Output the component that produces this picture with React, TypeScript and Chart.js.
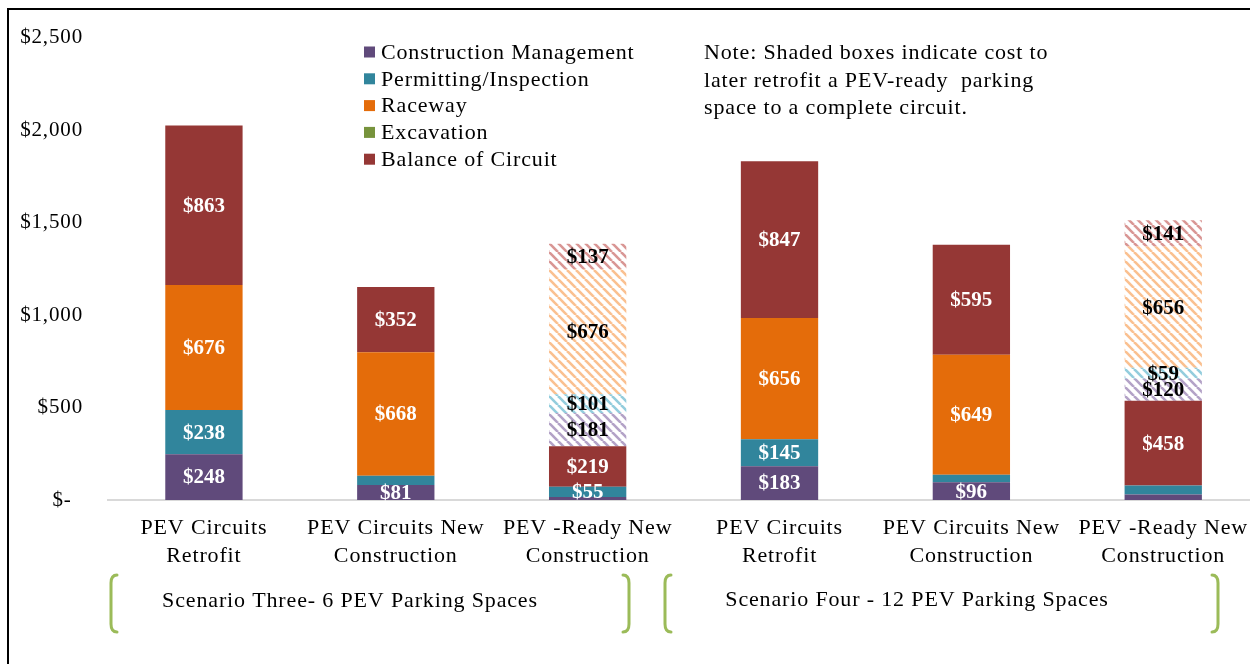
import React, { useEffect, useRef } from 'react';
import { Chart, registerables } from 'chart.js';
Chart.register(...registerables);

const categories: string[][] = [
  ['PEV Circuits', 'Retrofit'],
  ['PEV Circuits New', 'Construction'],
  ['PEV -Ready New', 'Construction'],
  ['PEV Circuits', 'Retrofit'],
  ['PEV Circuits New', 'Construction'],
  ['PEV -Ready New', 'Construction'],
];
const seriesNames = ['Construction Management', 'Permitting/Inspection', 'Raceway', 'Excavation', 'Balance of Circuit'];
const solidColors = ['#604a7b', '#31859c', '#e46c0a', '#77933c', '#953735'];
const hatchColors = ['#b3a2c7', '#93cddd', '#fac090', '#d99694'];

const constructionMgmt = [248, 81, 16, 183, 96, 30];
const permitting = [238, 50, 55, 145, 40, 48];
const raceway = [676, 668, 0, 656, 649, 0];
const excavation = [0, 0, 0, 0, 0, 0];
const balance = [863, 352, 219, 847, 595, 458];

const retrofitCM = [0, 0, 181, 0, 0, 120];
const retrofitPermitting = [0, 0, 101, 0, 0, 59];
const retrofitRaceway = [0, 0, 676, 0, 0, 656];
const retrofitBalance = [0, 0, 137, 0, 0, 141];

const yTicks = [0, 500, 1000, 1500, 2000, 2500];
const scenarioLabels = ['Scenario Three- 6 PEV Parking Spaces', 'Scenario Four - 12 PEV Parking Spaces'];
const noteLines = ['Note: Shaded boxes indicate cost to', 'later retrofit a PEV-ready  parking', 'space to a complete circuit.'];

const LABEL_MIN = 53;
const SERIF = '"Liberation Serif", "Times New Roman", serif';
const SPACING = '0.85px';
const FS = 22;

function makeHatch(color: string): CanvasPattern | string {
  const s = 9;
  const c = document.createElement('canvas');
  c.width = s;
  c.height = s;
  const g = c.getContext('2d');
  if (!g) return color;
  g.fillStyle = '#ffffff';
  g.fillRect(0, 0, s, s);
  g.strokeStyle = color;
  g.lineWidth = 2.6;
  for (const k of [-s, 0, s]) {
    g.beginPath();
    g.moveTo(k, 0);
    g.lineTo(k + s, s);
    g.stroke();
  }
  const p = g.createPattern(c, 'repeat');
  return p || color;
}

function fmt(v: number) {
  return '$' + v.toLocaleString('en-US');
}

export default function App() {
  const ref = useRef<HTMLCanvasElement>(null);
  useEffect(() => {
    const canvas = ref.current;
    if (!canvas) return;
    const solidData = [constructionMgmt, permitting, raceway, excavation, balance];
    const hatchData = [retrofitCM, retrofitPermitting, retrofitRaceway, retrofitBalance];

    const datasets: any[] = [];
    solidData.forEach((d, i) => {
      datasets.push({
        label: seriesNames[i],
        data: d,
        backgroundColor: solidColors[i],
        borderWidth: 0,
        stack: 's',
        _hatched: false,
      });
    });
    hatchData.forEach((d, i) => {
      datasets.push({
        label: 'retrofit-' + i,
        data: d,
        backgroundColor: makeHatch(hatchColors[i]),
        borderWidth: 0,
        stack: 's',
        _hatched: true,
      });
    });

    const spacingPlugin = {
      id: 'spacing',
      beforeInit(chart: any) {
        chart.ctx.letterSpacing = SPACING;
      },
      beforeUpdate(chart: any) {
        chart.ctx.letterSpacing = SPACING;
      },
      beforeDraw(chart: any) {
        chart.ctx.letterSpacing = SPACING;
      },
    };

    const decorPlugin = {
      id: 'decor',
      afterDraw(chart: any) {
        const ctx = chart.ctx as CanvasRenderingContext2D;
        ctx.save();
        (ctx as any).letterSpacing = SPACING;
        // frame
        ctx.fillStyle = '#000';
        ctx.fillRect(7, 8, chart.width, 2);
        ctx.fillRect(7, 8, 2, chart.height);

        // legend
        ctx.font = FS + 'px ' + SERIF;
        ctx.textBaseline = 'middle';
        ctx.textAlign = 'left';
        const legY0 = 52;
        const legStep = 26.8;
        seriesNames.forEach((name, i) => {
          const y = legY0 + i * legStep;
          ctx.fillStyle = solidColors[i];
          ctx.fillRect(364, y - 5.5, 11, 11);
          ctx.fillStyle = '#000';
          ctx.fillText(name, 381, y + 1);
        });

        // note
        noteLines.forEach((line, i) => {
          ctx.fillStyle = '#000';
          ctx.fillText(line, 704, 53 + i * 27.8);
        });

        // brackets
        ctx.strokeStyle = '#9bbb59';
        ctx.lineWidth = 3;
        ctx.lineCap = 'round';
        const top = 575;
        const bot = 632;
        const drawBracket = (x: number, dir: number) => {
          ctx.beginPath();
          ctx.moveTo(x + dir * 6, top);
          ctx.quadraticCurveTo(x, top, x, top + 8);
          ctx.lineTo(x, bot - 8);
          ctx.quadraticCurveTo(x, bot, x + dir * 6, bot);
          ctx.stroke();
        };
        drawBracket(111, 1);
        drawBracket(629, -1);
        drawBracket(665, 1);
        drawBracket(1218, -1);

        ctx.fillStyle = '#000';
        ctx.textAlign = 'center';
        ctx.fillText(scenarioLabels[0], 350, 601);
        ctx.fillText(scenarioLabels[1], 917, 600);
        ctx.restore();
      },
      afterDatasetsDraw(chart: any) {
        const ctx = chart.ctx as CanvasRenderingContext2D;
        ctx.save();
        (ctx as any).letterSpacing = '0px';
        ctx.font = 'bold 21px ' + SERIF;
        ctx.textAlign = 'center';
        ctx.textBaseline = 'middle';
        chart.data.datasets.forEach((ds: any, di: number) => {
          const meta = chart.getDatasetMeta(di);
          meta.data.forEach((el: any, i: number) => {
            const v = ds.data[i];
            if (!v || v < LABEL_MIN) return;
            const y = (el.y + el.base) / 2;
            ctx.fillStyle = ds._hatched ? '#000' : '#fff';
            ctx.fillText(fmt(v), el.x, y + 1);
          });
        });
        ctx.restore();
      },
    };

    const chart = new Chart(canvas, {
      type: 'bar',
      data: { labels: categories as any, datasets },
      plugins: [spacingPlugin, decorPlugin],
      options: {
        animation: false,
        responsive: false,
        devicePixelRatio: 1,
        layout: { padding: { left: 8, top: 34, right: 0, bottom: 0 } },
        plugins: { legend: { display: false }, tooltip: { enabled: false } },
        datasets: { bar: { categoryPercentage: 1, barPercentage: 0.403 } },
        scales: {
          x: {
            stacked: true,
            grid: { display: false, drawTicks: false },
            border: { display: true, color: '#d9d9d9', width: 2 },
            ticks: {
              color: '#000',
              padding: 14,
              maxRotation: 0,
              autoSkip: false,
              font: { family: SERIF, size: FS, lineHeight: 28 / FS },
            },
            afterFit(s: any) {
              s.height = 164;
            },
          },
          y: {
            stacked: true,
            min: 0,
            max: 2500,
            grid: { display: false, drawTicks: false },
            border: { display: false },
            afterBuildTicks(s: any) {
              s.ticks = yTicks.map((v) => ({ value: v }));
            },
            ticks: {
              color: '#000',
              padding: 25,
              font: { family: SERIF, size: 21 },
              callback: (v: any) => (Number(v) === 0 ? '$-\u2007' : fmt(Number(v))),
            },
            afterFit(s: any) {
              s.width = 100;
            },
          },
        },
      } as any,
    });
    return () => chart.destroy();
  }, []);

  return (
    <div style={{ position: 'fixed', left: 0, top: 0, width: 1250, height: 664, overflow: 'hidden', background: '#fff' }}>
      <canvas ref={ref} width={1262} height={664} style={{ width: 1262, height: 664, display: 'block' }} />
    </div>
  );
}
